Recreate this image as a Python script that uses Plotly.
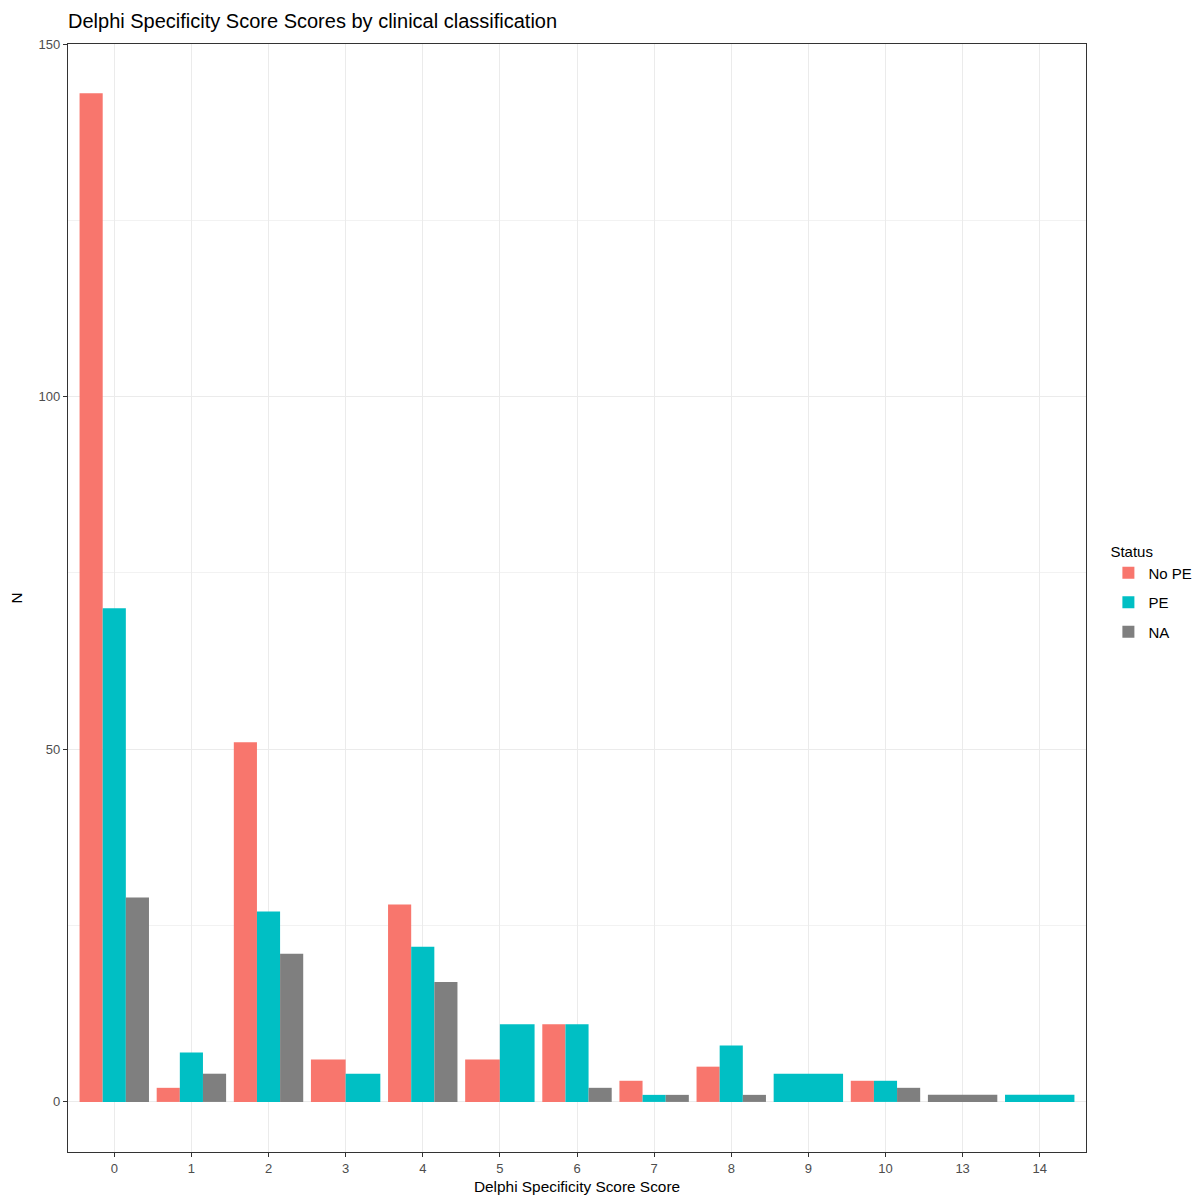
import plotly.graph_objects as go

categories = ["0", "1", "2", "3", "4", "5", "6", "7", "8", "9", "10", "13", "14"]
groups = ["No PE", "PE", "NA"]
no_pe = [143, 2, 51, 6, 28, 6, 11, 3, 5, 0, 3, 0, 0]
pe = [70, 7, 27, 4, 22, 11, 11, 1, 8, 4, 3, 0, 1]
na_vals = [29, 4, 21, 0, 17, 0, 2, 1, 1, 0, 2, 1, 0]
colors = ["#F8766D", "#00BFC4", "#7F7F7F"]

series = [no_pe, pe, na_vals]
positions = list(range(1, len(categories) + 1))
total_width = 0.9

# ggplot2-style dodge: bars in a category share the 0.9 width among present groups
present = [[j for j in range(len(groups)) if series[j][i] > 0] for i in range(len(categories))]

fig = go.Figure()
for j, (name, vals, col) in enumerate(zip(groups, series, colors)):
    xs, ys, ws, offs = [], [], [], []
    for i, v in enumerate(vals):
        if v <= 0:
            continue
        k = len(present[i])
        w = total_width / k
        idx = present[i].index(j)
        xs.append(positions[i])
        ys.append(v)
        ws.append(w)
        offs.append(-total_width / 2 + idx * w)
    fig.add_trace(go.Bar(x=xs, y=ys, width=ws, offset=offs, name=name,
                         legendgroup=name,
                         marker=dict(color=col, line=dict(width=0))))

font_family = "Liberation Sans, Arial, sans-serif"
fig.update_layout(
    width=1200, height=1203,
    barmode="overlay",
    paper_bgcolor="white", plot_bgcolor="white",
    margin=dict(l=60, r=122, t=36, b=59, autoexpand=False),
    font=dict(family=font_family, color="black"),
    title=dict(text="Delphi Specificity Score Scores by clinical classification",
               x=60 / 1200, xanchor="left", xref="container",
               y=1 - 13 / 1203, yanchor="middle", yref="container",
               font=dict(size=20, color="black")),
    xaxis=dict(range=[0.4, len(categories) + 0.6], tickmode="array",
               tickvals=positions, ticktext=categories,
               showgrid=True, gridcolor="#EBEBEB", gridwidth=1.2,
               zeroline=False, showline=True, mirror=True,
               linecolor="#333333", linewidth=1.3,
               ticks="outside", ticklen=4, tickcolor="#333333", tickwidth=1,
               tickfont=dict(size=13, color="#4D4D4D"),
               title=dict(text="Delphi Specificity Score Score", font=dict(size=15.4), standoff=6)),
    yaxis=dict(range=[-7.1, 150], tickmode="array", tickvals=[0, 50, 100, 150],
               showgrid=True, gridcolor="#EBEBEB", gridwidth=1.2,
               minor=dict(tickvals=[25, 75, 125], showgrid=True, gridcolor="#F2F2F2", gridwidth=0.8),
               zeroline=False, showline=True, mirror=True,
               linecolor="#333333", linewidth=1.3,
               ticks="outside", ticklen=4, tickcolor="#333333", tickwidth=1,
               tickfont=dict(size=13, color="#4D4D4D"),
               title=dict(text="N", font=dict(size=15.4), standoff=14)),
    legend=dict(title=dict(text="Status", font=dict(size=15)),
                font=dict(size=15), x=1.022, xanchor="left",
                y=0.555, yanchor="top", itemsizing="constant",
                tracegroupgap=7, bgcolor="rgba(0,0,0,0)"),
)

fig.write_html("out.html")
